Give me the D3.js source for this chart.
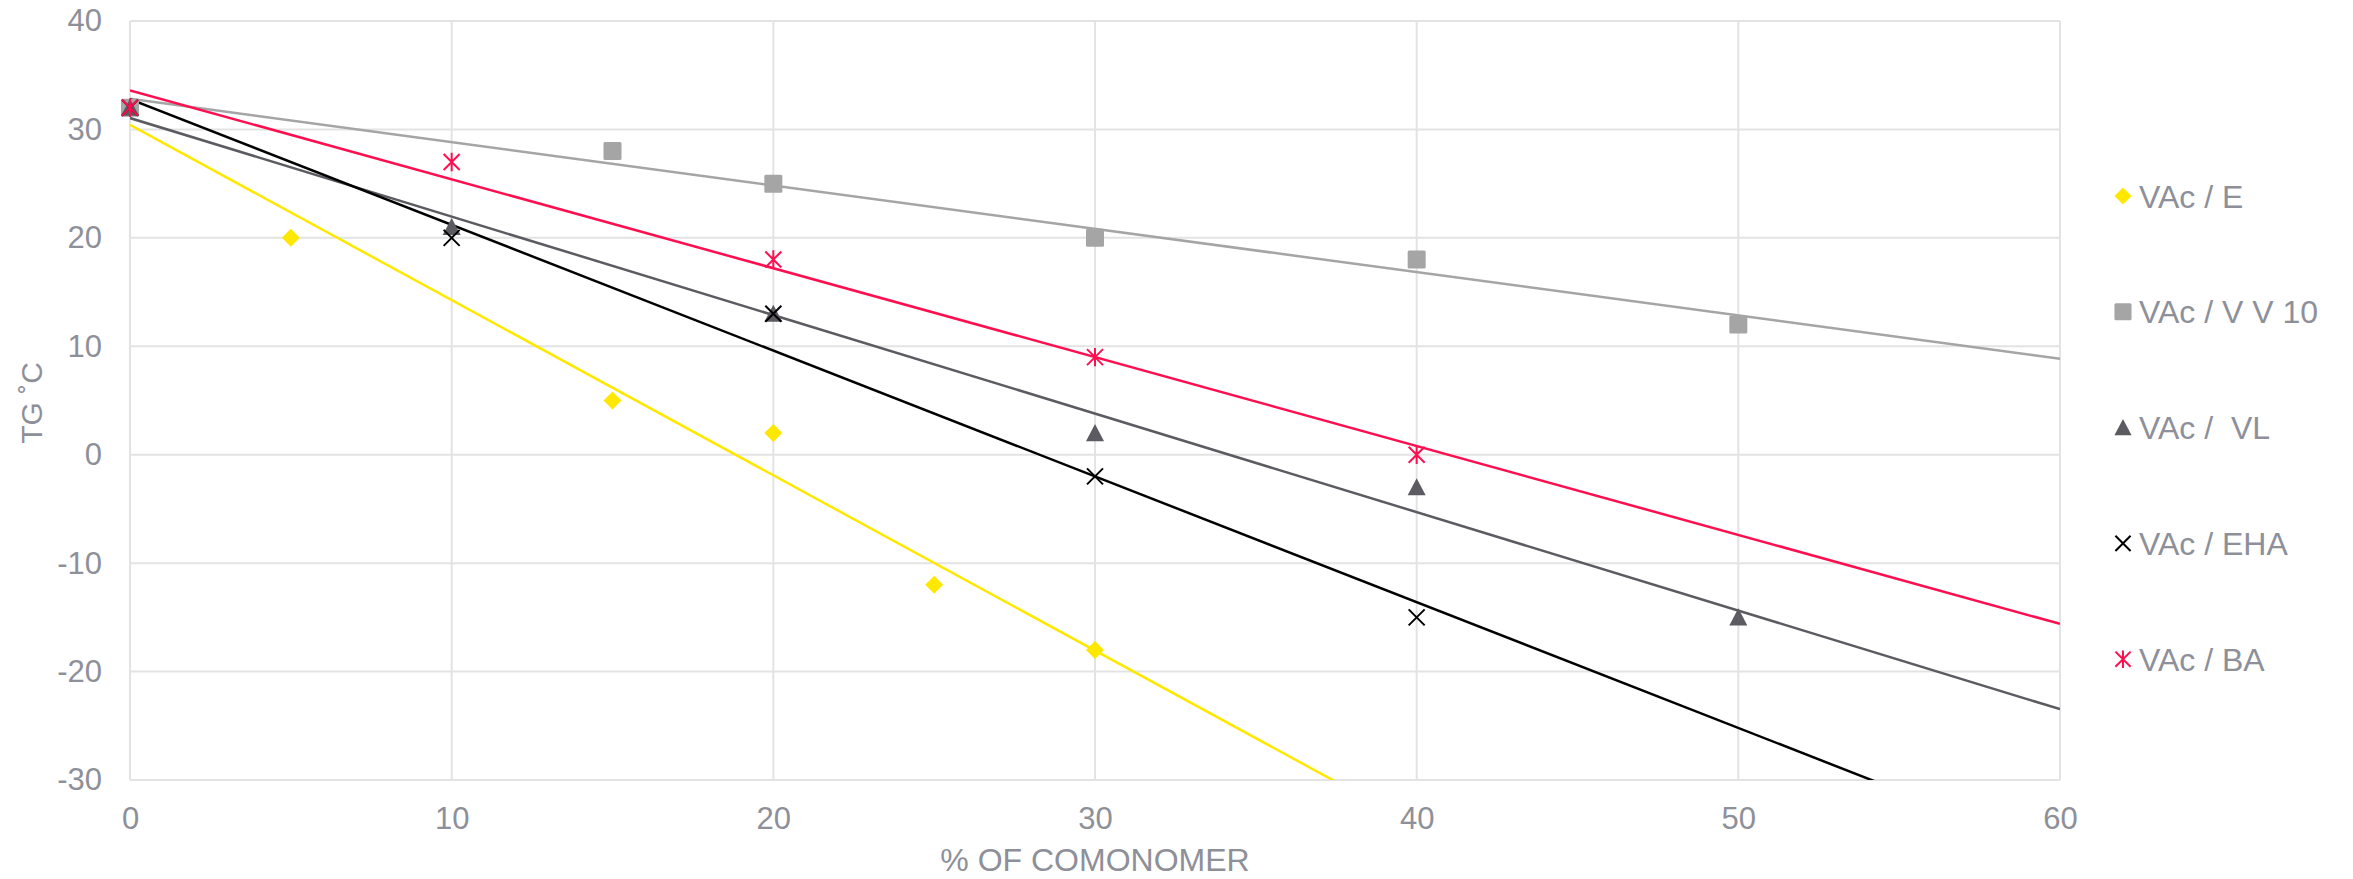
<!DOCTYPE html>
<html>
<head>
<meta charset="utf-8">
<script src="https://cdn.jsdelivr.net/npm/d3@7"></script>
<style>
  html, body { margin: 0; padding: 0; background: #fff; }
  svg { display: block; }
  text { font-family: "Liberation Sans", Arial, sans-serif; fill: #8E9099; }
</style>
</head>
<body>
<svg id="chart" width="2353" height="879"></svg>
<script>
// ---- data ----
const seriesNames = ["VAc / E", "VAc / V V 10", "VAc /  VL", "VAc / EHA", "VAc / BA"];
const eX   = [0, 5, 15, 20, 25, 30];
const eY   = [32, 20, 5, 2, -12, -18];
const vvX  = [0, 15, 20, 30, 40, 50];
const vvY  = [32, 28, 25, 20, 18, 12];
const vlX  = [0, 10, 20, 30, 40, 50];
const vlY  = [32, 21, 13, 2, -3, -15];
const ehaX = [0, 10, 20, 30, 40];
const ehaY = [32, 20, 13, -2, -15];
const baX  = [0, 10, 20, 30, 40];
const baY  = [32, 27, 18, 9, 0];
const xTicks = [0, 10, 20, 30, 40, 50, 60];
const yTicks = [-30, -20, -10, 0, 10, 20, 30, 40];
const xTitle = "% OF COMONOMER";
const yTitle = "TG ˚C";

const colors = ["#FFE800", "#A5A5A5", "#5B5B61", "#000000", "#FF0F4F"];
const markers = ["diamond", "square", "triangle", "x", "star"];

const series = [
  {xs: eX, ys: eY}, {xs: vvX, ys: vvY}, {xs: vlX, ys: vlY},
  {xs: ehaX, ys: ehaY}, {xs: baX, ys: baY}
].map((s, i) => ({name: seriesNames[i], color: colors[i], marker: markers[i],
  pts: s.xs.map((x, j) => ({x, y: s.ys[j]}))}));

// ---- layout ----
const svg = d3.select("#chart");
const pL = 130, pR = 2060, pT = 21, pB = 780;
const x = d3.scaleLinear().domain([0, 60]).range([pL, pR]);
const y = d3.scaleLinear().domain([-30, 40]).range([pB, pT]);
const gridColor = "#E3E3E3";
const fontFam = '"Liberation Sans", Arial, sans-serif';

// grid
const grid = svg.append("g");
grid.selectAll(".hg").data(yTicks).join("line")
  .attr("x1", pL).attr("x2", pR)
  .attr("y1", d => y(d)).attr("y2", d => y(d))
  .attr("stroke", gridColor).attr("stroke-width", 2);
grid.selectAll(".vg").data(xTicks).join("line")
  .attr("y1", pT).attr("y2", pB)
  .attr("x1", d => x(d)).attr("x2", d => x(d))
  .attr("stroke", gridColor).attr("stroke-width", 2);

// axes (labels only)
const fmt = d => String(d);
const yAxis = svg.append("g").attr("transform", `translate(${pL - 28},0)`)
  .call(d3.axisLeft(y).tickValues(yTicks).tickFormat(fmt).tickSize(0).tickPadding(0));
yAxis.select(".domain").remove();
yAxis.selectAll("text").style("font-size", "31px").attr("fill", "#8E9099")
  .style("font-family", fontFam);

const xAxis = svg.append("g").attr("transform", `translate(0,${pB + 27})`)
  .call(d3.axisBottom(x).tickValues(xTicks).tickFormat(fmt).tickSize(0).tickPadding(0));
xAxis.select(".domain").remove();
xAxis.selectAll("text").style("font-size", "31px").attr("fill", "#8E9099")
  .style("font-family", fontFam);

// titles
svg.append("text").attr("x", (pL + pR) / 2).attr("y", 871).attr("text-anchor", "middle")
  .style("font-size", "32px").text(xTitle);
svg.append("text").attr("transform", "translate(42,403) rotate(-90)")
  .attr("text-anchor", "middle").style("font-size", "30px")
  .style("white-space", "pre").text(yTitle);

// clip
svg.append("clipPath").attr("id", "plotclip").append("rect")
  .attr("x", pL).attr("y", pT).attr("width", pR - pL).attr("height", pB - pT);

// trendlines (least squares)
function fit(pts) {
  const mx = d3.mean(pts, p => p.x), my = d3.mean(pts, p => p.y);
  const sxy = d3.sum(pts, p => (p.x - mx) * (p.y - my));
  const sxx = d3.sum(pts, p => (p.x - mx) ** 2);
  const b = sxy / sxx;
  return {b, a: my - b * mx};
}
const lines = svg.append("g").attr("clip-path", "url(#plotclip)");
series.forEach(s => {
  const f = fit(s.pts);
  const ends = [0, 60].map(v => ({x: v, y: f.a + f.b * v}));
  lines.append("path")
    .attr("d", d3.line().x(d => x(d.x)).y(d => y(d.y))(ends))
    .attr("fill", "none").attr("stroke", s.color).attr("stroke-width", 2.5);
});

// markers
function drawMarker(g, type, color, cx, cy, sc) {
  const k = sc || 1;
  if (type === "diamond") {
    const r = 9 * k;
    g.append("path").attr("d", `M${cx},${cy - r}L${cx + r},${cy}L${cx},${cy + r}L${cx - r},${cy}Z`)
      .attr("fill", color);
  } else if (type === "square") {
    const r = 9 * k;
    g.append("rect").attr("x", cx - r).attr("y", cy - r).attr("width", 2 * r).attr("height", 2 * r)
      .attr("rx", 1.5).attr("fill", color);
  } else if (type === "triangle") {
    const w = 9 * k, h = 9 * k;
    g.append("path").attr("d", `M${cx},${cy - h}L${cx + w},${cy + h * 0.9}L${cx - w},${cy + h * 0.9}Z`)
      .attr("fill", color);
  } else if (type === "x") {
    const r = 8 * k;
    g.append("path").attr("d", `M${cx - r},${cy - r}L${cx + r},${cy + r}M${cx - r},${cy + r}L${cx + r},${cy - r}`)
      .attr("stroke", color).attr("stroke-width", 2).attr("fill", "none");
  } else if (type === "star") {
    const r = 8 * k;
    g.append("path").attr("d", `M${cx - r},${cy - r}L${cx + r},${cy + r}M${cx - r},${cy + r}L${cx + r},${cy - r}M${cx},${cy - r * 1.15}L${cx},${cy + r * 1.15}`)
      .attr("stroke", color).attr("stroke-width", 2).attr("fill", "none");
  }
}
const mk = svg.append("g");
series.forEach(s => {
  s.pts.forEach(p => drawMarker(mk, s.marker, s.color, x(p.x), y(p.y), 1));
});

// legend
const legend = svg.append("g");
const legY0 = 196, legStep = 115.8;
series.forEach((s, i) => {
  const cy = legY0 + i * legStep;
  drawMarker(legend, s.marker, s.color, 2123, cy, 0.95);
  legend.append("text").attr("x", 2139).attr("y", cy + 11.5)
    .style("font-size", "32px").style("white-space", "pre").text(s.name);
});
</script>
</body>
</html>
